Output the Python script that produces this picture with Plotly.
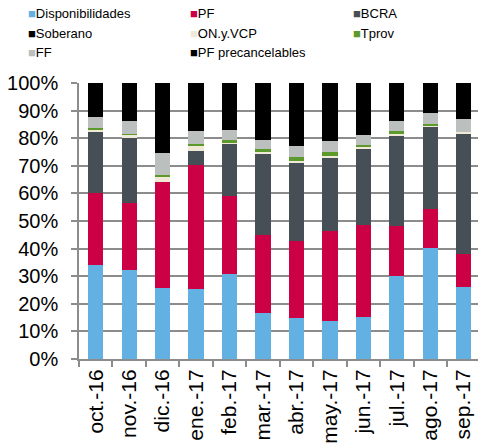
import plotly.graph_objects as go

# Monthly composition (% of total), stacked bottom to top
months = ["oct.-16", "nov.-16", "dic.-16", "ene.-17", "feb.-17", "mar.-17",
          "abr.-17", "may.-17", "jun.-17", "jul.-17", "ago.-17", "sep.-17"]

disponibilidades = [33.9, 32.4, 25.9, 25.5, 30.8, 16.7, 14.9, 13.6, 15.1, 30.1, 40.4, 26.0]
pf = [26.3, 24.3, 38.1, 44.7, 28.1, 28.1, 28.0, 32.7, 33.4, 18.0, 14.0, 12.1]
bcra = [21.9, 23.2, 0.0, 5.3, 19.1, 29.6, 28.4, 26.8, 27.6, 32.8, 29.7, 43.7]
soberano = [0.0] * 12
on_vcp = [0.9, 1.3, 2.2, 1.5, 0.5, 0.7, 0.6, 0.6, 0.7, 0.6, 0.3, 0.6]
tprov = [0.7, 0.4, 0.4, 0.9, 0.7, 1.0, 1.2, 1.2, 0.9, 1.0, 0.9, 0.0]
ff = [4.0, 4.5, 8.1, 4.7, 3.6, 3.4, 3.9, 4.0, 3.6, 3.6, 3.8, 4.7]
pf_precancelables = [12.3, 13.9, 25.3, 17.4, 17.2, 20.5, 23.0, 21.1, 18.7, 13.9, 10.9, 12.9]

series_names = ["Disponibilidades", "PF", "BCRA", "Soberano", "ON.y.VCP",
                "Tprov", "FF", "PF precancelables"]
series_values = [disponibilidades, pf, bcra, soberano, on_vcp, tprov, ff,
                 pf_precancelables]
series_colors = ["#63B0E3", "#CC0044", "#464F56", "#000000", "#F1E9D8",
                 "#5B9A2B", "#BBBFBE", "#000000"]

y_ticks = list(range(0, 101, 10))
y_tick_labels = [f"{v}%" for v in y_ticks]

W, H = 478, 446
ML, MR, MT, MB = 79, 0, 83, 87
FONT = "Liberation Sans, Arial, sans-serif"

fig = go.Figure()
for name, vals, col in zip(series_names, series_values, series_colors):
    fig.add_trace(go.Bar(x=months, y=vals, name=name, marker_color=col,
                         marker_line_width=0, showlegend=False))

# Legend laid out as a 3-column grid of coloured squares + labels
plot_w = W - ML - MR
plot_h = H - MT - MB


def px_x(px):
    return (px - ML) / plot_w


def px_y(py):
    return 1 + (MT - py) / plot_h


col_x = [26, 188, 351]
row_y = [13, 33, 53]
for i, (name, col) in enumerate(zip(series_names, series_colors)):
    r, c = divmod(i, 3)
    fig.add_annotation(
        xref="paper", yref="paper", x=px_x(col_x[c]), y=px_y(row_y[r]),
        xanchor="left", yanchor="middle", showarrow=False,
        text=f"<span style='color:{col}'>■</span>{name}",
        font=dict(family=FONT, size=13, color="#000000"),
    )

cat_w = 33.45
x_hi = -0.5 + plot_w / cat_w

fig.update_layout(
    width=W, height=H,
    margin=dict(l=ML, r=MR, t=MT, b=MB, pad=0),
    barmode="stack", bargap=0.543,
    paper_bgcolor="white", plot_bgcolor="white",
    font=dict(family=FONT, size=19, color="#000000"),
    showlegend=False,
    xaxis=dict(
        type="category", range=[-0.5, x_hi], tickangle=-90,
        showline=True, linecolor="#8C8C8C", linewidth=2,
        ticks="outside", tickson="boundaries", ticklen=6,
        tickcolor="#8C8C8C", tickwidth=1.5, showgrid=False,
        tickfont=dict(size=21),
    ),
    yaxis=dict(
        range=[0, 100], tickmode="array", tickvals=y_ticks,
        ticktext=y_tick_labels,
        showline=True, linecolor="#8C8C8C", linewidth=1.5,
        ticks="outside", ticklen=6, tickcolor="#8C8C8C", tickwidth=1.5,
        showgrid=True, gridcolor="#8C8C8C", gridwidth=1.5, zeroline=False,
        tickfont=dict(size=20), ticklabelstandoff=9,
    ),
)

fig.write_html("out.html")
